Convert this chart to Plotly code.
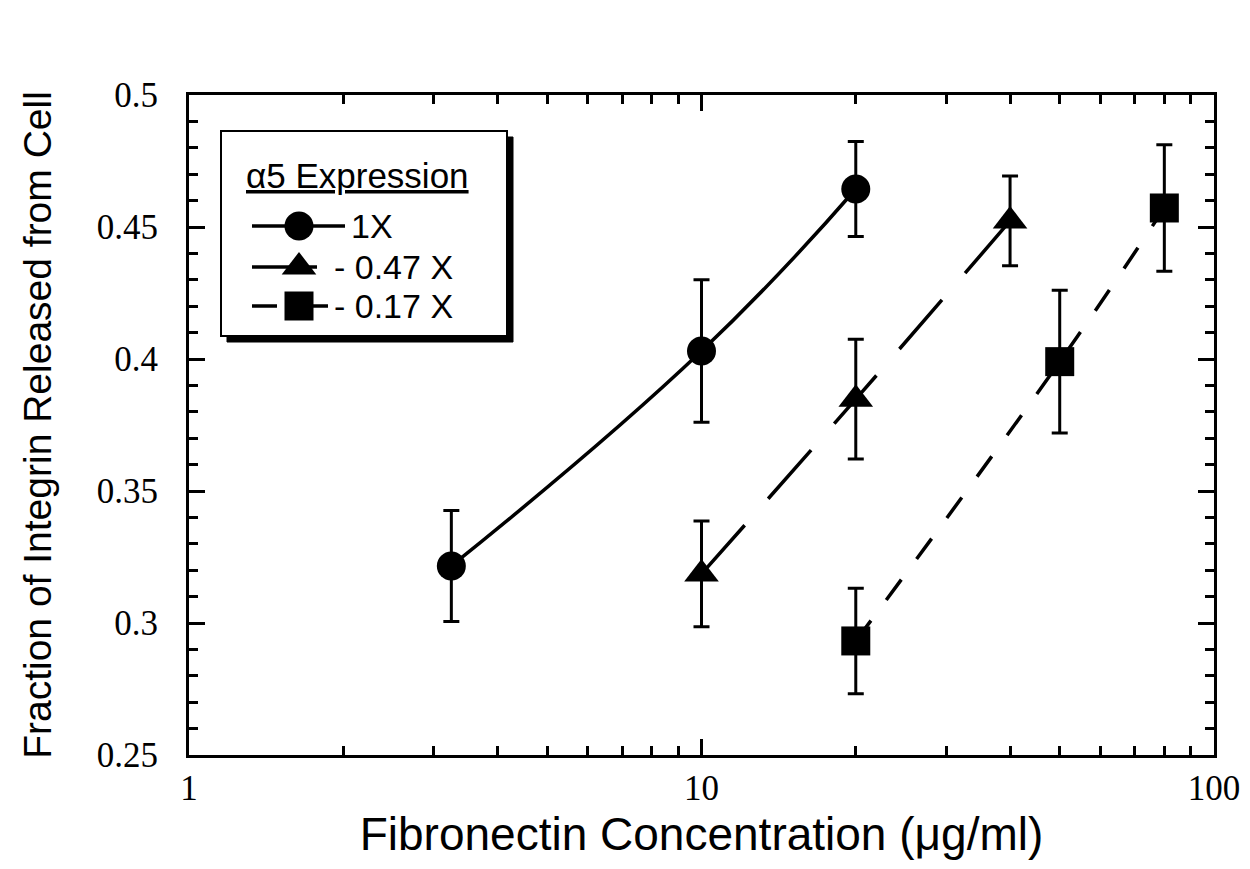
import plotly.graph_objects as go

# ---- data ----
conc_1x = [3.25, 10, 20]
frac_1x = [0.3216, 0.403, 0.4644]
err_1x = [0.021, 0.027, 0.018]

conc_047 = [10, 20, 40]
frac_047 = [0.3186, 0.3848, 0.4523]
err_047 = [0.020, 0.0227, 0.017]

conc_017 = [20, 50, 80]
frac_017 = [0.2932, 0.399, 0.4572]
err_017 = [0.020, 0.027, 0.024]

x_tickvals = [1, 10, 100]
x_ticktext = ["1", "10", "100"]
x_minor = [2, 3, 4, 5, 6, 7, 8, 9, 20, 30, 40, 50, 60, 70, 80, 90]

legend_title = "α5 Expression"
legend_labels = ["1X", "- 0.47 X", "- 0.17 X"]

SANS = "Liberation Sans, Arial, Helvetica, sans-serif"
SERIF = "Liberation Serif, Times New Roman, serif"
LW = 3.5

series = [
    (conc_1x, frac_1x, err_1x, "circle", 29, "solid"),
    (conc_047, frac_047, err_047, "triangle-up", 30, "65px,35px"),
    (conc_017, frac_017, err_017, "square", 29, "25px,26px"),
]

fig = go.Figure()
for (xs, ys, es, sym, sz, dash), name in zip(series, legend_labels):
    fig.add_trace(go.Scatter(
        x=xs, y=ys, mode="lines+markers", name=name, showlegend=False,
        line=dict(color="black", width=LW, dash=dash, shape="spline", smoothing=1.3),
        marker=dict(symbol=sym, size=sz, color="black", line=dict(width=0)),
        error_y=dict(type="data", array=es, visible=True, color="black",
                     thickness=3, width=8),
    ))

# ---- hand-drawn legend on a pixel-space overlay axis ----
# overlay axes: x2 in px from plot left, y2 in px from plot top
box = dict(x0=32, y0=36, x1=318, y1=241)
shadow = 6
fig.add_shape(type="rect", xref="x2", yref="y2",
              x0=box["x0"] + shadow, y0=box["y0"] + shadow,
              x1=box["x1"] + shadow, y1=box["y1"] + shadow,
              fillcolor="black", line=dict(color="black", width=1), layer="below")
fig.add_shape(type="rect", xref="x2", yref="y2",
              x0=box["x0"], y0=box["y0"], x1=box["x1"], y1=box["y1"],
              fillcolor="white", line=dict(color="black", width=2), layer="below")

rows_y = [131, 172, 211]
line_x = [63, 156]
marker_x = 110
text_x = [160, 143, 143]
for (xs, ys, es, sym, sz, dash), ry in zip(series, rows_y):
    fig.add_trace(go.Scatter(
        x=line_x, y=[ry, ry], xaxis="x2", yaxis="y2", mode="lines",
        showlegend=False, hoverinfo="skip",
        line=dict(color="black", width=LW, dash=dash)))
    fig.add_trace(go.Scatter(
        x=[marker_x], y=[ry], xaxis="x2", yaxis="y2", mode="markers",
        showlegend=False, hoverinfo="skip",
        marker=dict(symbol=sym, size=sz, color="black", line=dict(width=0))))

fig.add_annotation(x=55, y=80, xref="x2", yref="y2", text="<u>" + legend_title + "</u>",
                   showarrow=False, xanchor="left", yanchor="middle",
                   font=dict(family=SANS, size=35, color="black"))
for lbl, ry, tx in zip(legend_labels, rows_y, text_x):
    fig.add_annotation(x=tx, y=ry, xref="x2", yref="y2", text=lbl,
                       showarrow=False, xanchor="left", yanchor="middle",
                       font=dict(family=SANS, size=34, color="black"))

fig.update_layout(
    width=1250, height=869,
    margin=dict(l=181, r=44, t=87, b=122),
    paper_bgcolor="white", plot_bgcolor="white",
    showlegend=False,
    xaxis=dict(
        type="log", range=[0, 2],
        tickvals=x_tickvals, ticktext=x_ticktext,
        ticks="inside", ticklen=16, tickwidth=2.5, tickcolor="black",
        minor=dict(tickvals=x_minor, ticks="inside", ticklen=9, tickwidth=2.5,
                   tickcolor="black", showgrid=False),
        showline=True, linecolor="black", linewidth=3, mirror="ticks",
        showgrid=False, zeroline=False,
        tickfont=dict(family=SERIF, size=35, color="black"),
        ticklabelstandoff=0,
        title=dict(text="Fibronectin Concentration (μg/ml)",
                   font=dict(family=SANS, size=46, color="black"), standoff=7),
    ),
    yaxis=dict(
        range=[0.25, 0.5], tick0=0.25, dtick=0.05,
        ticks="inside", ticklen=16, tickwidth=2.5, tickcolor="black",
        minor=dict(dtick=0.01, ticks="inside", ticklen=9, tickwidth=2.5,
                   tickcolor="black", showgrid=False),
        showline=True, linecolor="black", linewidth=3, mirror="ticks",
        showgrid=False, zeroline=False,
        tickfont=dict(family=SERIF, size=35, color="black"),
        ticklabelstandoff=21,
        title=dict(text="Fraction of Integrin Released from Cell",
                   font=dict(family=SANS, size=39, color="black"), standoff=34),
    ),
    xaxis2=dict(overlaying="x", range=[0, 1025], visible=False, fixedrange=True),
    yaxis2=dict(overlaying="y", range=[660, 0], visible=False, fixedrange=True),
)

fig.write_html("out.html")
